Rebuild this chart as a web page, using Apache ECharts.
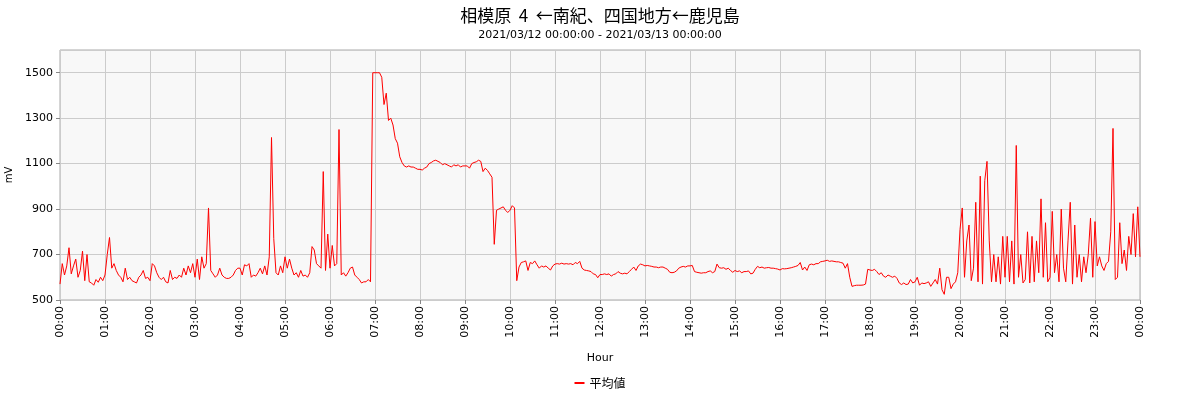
<!DOCTYPE html>
<html><head><meta charset="utf-8">
<script src="https://cdn.jsdelivr.net/npm/echarts@6/dist/echarts.min.js"></script>
<style>html,body{margin:0;padding:0;background:#fff}#c{width:1200px;height:400px}</style>
</head><body><div id="c"></div>
<script>
const titleText = '相模原  4  ←南紀、四国地方←鹿児島';
const subText = '2021/03/12 00:00:00 - 2021/03/13 00:00:00';
const seriesName = '平均値';
const xName = 'Hour';
const yName = 'mV';
const STEP = 3; // minutes between samples
// values per hour, one every 3 minutes (mV)
const h00 = [570,660,610,650,730,615,650,680,600,630,715,585,700,580,575,565,590,578,600,585];
const h01 = [610,700,775,640,660,630,610,600,580,640,590,600,585,580,575,600,610,630,595,600];
const h02 = [585,660,650,620,600,590,600,580,575,630,590,600,595,610,600,640,610,650,620,660];
const h03 = [600,680,590,690,640,660,905,630,615,600,610,640,610,600,595,595,600,610,630,640];
const h04 = [640,610,655,650,660,600,610,605,620,640,615,650,610,690,1215,770,620,610,650,620];
const h05 = [690,640,680,640,610,620,600,630,605,610,600,620,735,720,660,650,640,1065,630,790];
const h06 = [640,740,650,660,1250,610,620,605,620,640,645,610,600,590,575,580,580,590,580,1500];
const h07 = [1500,1500,1500,1480,1360,1410,1290,1300,1270,1210,1190,1130,1105,1090,1085,1090,1085,1085,1080,1075];
const h08 = [1075,1072,1080,1085,1100,1105,1112,1115,1110,1105,1095,1100,1095,1090,1085,1095,1090,1095,1085,1090];
const h09 = [1090,1090,1080,1100,1105,1108,1115,1110,1065,1080,1070,1055,1040,745,895,900,905,910,895,885];
const h10 = [895,915,905,585,645,665,668,672,630,665,660,672,655,640,650,645,650,640,632,650];
const h11 = [658,660,658,662,658,660,658,660,655,665,660,670,640,632,630,628,625,615,612,598];
const h12 = [612,612,615,612,615,605,612,615,625,618,615,618,615,625,635,645,630,650,658,655];
const h13 = [650,652,650,648,645,645,642,645,645,640,635,622,620,622,628,640,645,648,645,650];
const h14 = [650,652,625,622,620,618,620,620,625,628,620,625,658,642,640,642,635,640,630,622];
const h15 = [630,625,628,620,625,625,628,615,618,635,648,642,645,640,642,643,640,640,638,636];
const h16 = [632,638,637,638,640,642,645,648,652,665,632,645,630,655,658,655,660,660,668,670];
const h17 = [672,675,670,672,670,668,668,665,662,640,660,600,560,563,565,565,565,566,570,635];
const h18 = [632,630,635,625,612,620,605,600,610,605,600,605,595,575,568,575,568,570,590,575];
const h19 = [580,600,565,575,572,575,580,560,575,590,570,640,545,525,600,600,550,570,580,620];
const h20 = [810,905,600,760,830,585,640,930,580,1045,570,1025,1110,760,580,700,580,690,570,780];
const h21 = [600,780,580,760,570,1180,600,700,575,590,800,575,780,580,760,620,945,600,840,580];
const h22 = [600,890,620,700,580,900,640,580,760,930,570,830,600,700,580,690,620,700,860,600];
const h23 = [845,650,690,650,630,660,670,800,1255,590,600,840,660,720,630,780,700,880,690,910];
const endValue = 690;

const hourly = [h00,h01,h02,h03,h04,h05,h06,h07,h08,h09,h10,h11,h12,h13,h14,h15,h16,h17,h18,h19,h20,h21,h22,h23];
const data = [];
hourly.forEach((arr, h) => arr.forEach((v, i) => data.push([h * 60 + i * STEP, v])));
data.push([1440, endValue]);

const pad = n => (n < 10 ? '0' : '') + n;
const chart = echarts.init(document.getElementById('c'), null, {renderer: 'canvas'});
chart.setOption({
  animation: false,
  backgroundColor: '#ffffff',
  textStyle: {fontFamily: 'DejaVu Sans, Noto Sans CJK JP'},
  title: {
    text: titleText, subtext: subText, left: 'center', top: 2, itemGap: 6,
    textStyle: {fontSize: 17, fontWeight: 'normal', color: '#000', fontFamily: 'Noto Sans CJK JP'},
    subtextStyle: {fontSize: 11, color: '#000', fontFamily: 'DejaVu Sans'}
  },
  grid: {left: 60, right: 60, top: 50, bottom: 100, show: true, backgroundColor: '#f8f8f8', borderColor: '#aaaaaa', borderWidth: 1, containLabel: false, outerBoundsMode: 'none'},
  legend: {
    bottom: 6, left: 'center', icon: 'rect', itemWidth: 10, itemHeight: 2,
    textStyle: {fontSize: 12, color: '#000', fontFamily: 'Noto Sans CJK JP'},
    data: [seriesName]
  },
  xAxis: {
    type: 'value', min: 0, max: 1440, interval: 60,
    name: xName, nameLocation: 'middle', nameGap: 53,
    nameTextStyle: {fontSize: 11, color: '#000'},
    axisLine: {show: false},
    axisTick: {show: true, length: 4, lineStyle: {color: '#888'}},
    axisLabel: {rotate: 90, fontSize: 11, color: '#000', margin: 6,
      formatter: v => pad(Math.round(v / 60) % 24) + ':00'},
    splitLine: {show: true, lineStyle: {color: '#cccccc', width: 1}}
  },
  yAxis: {
    type: 'value', min: 500, max: 1600, interval: 200,
    name: yName, nameLocation: 'middle', nameGap: 44, nameRotate: 90,
    nameTextStyle: {fontSize: 10, color: '#000'},
    axisLine: {show: false},
    axisTick: {show: true, length: 4, lineStyle: {color: '#888'}},
    axisLabel: {fontSize: 11, color: '#000', margin: 7, showMaxLabel: false, formatter: v => String(v)},
    splitLine: {show: true, lineStyle: {color: '#cccccc', width: 1}}
  },
  series: [{
    name: seriesName, type: 'line', data: data, showSymbol: false, symbol: 'none',
    lineStyle: {color: '#ff0000', width: 1}, itemStyle: {color: '#ff0000'}
  }]
});
</script></body></html>
